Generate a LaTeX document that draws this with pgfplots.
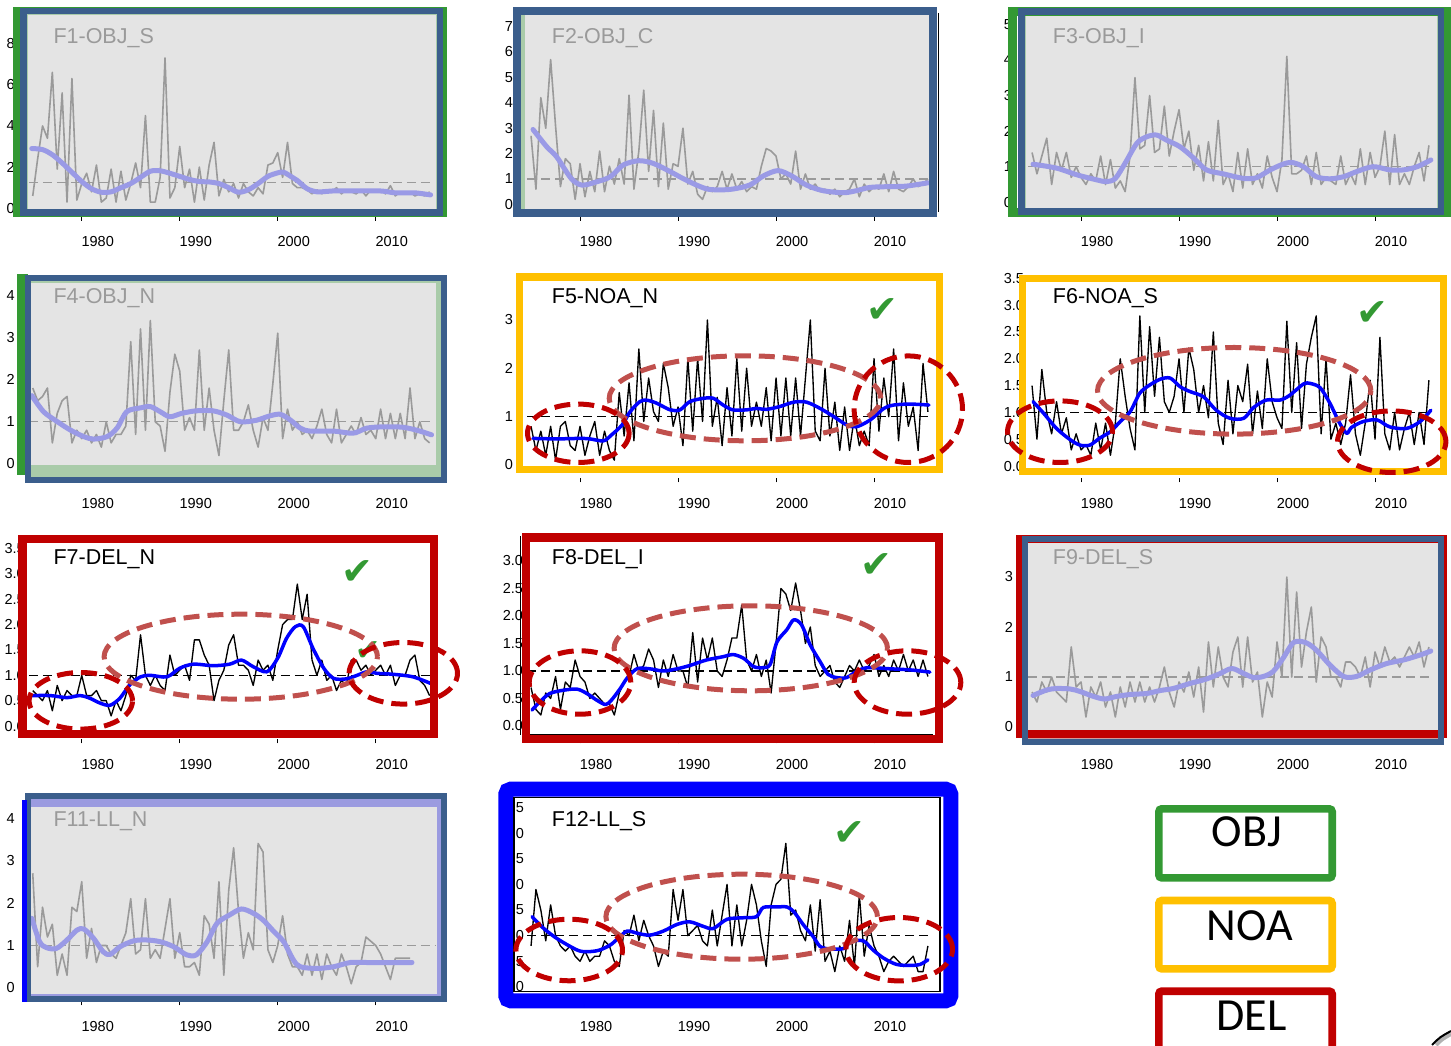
\documentclass[border=0pt]{standalone}
\usepackage{fontspec}
\setmainfont{Liberation Sans}
\newfontfamily\legfont{Carlito}
\newfontfamily\checkfont{DejaVu Sans}
\usepackage{pgfplots}
\pgfplotsset{compat=1.18}
\usepackage{pgfplotstable}

\definecolor{objgreen}{HTML}{339933}
\definecolor{noaorange}{HTML}{FFC000}
\definecolor{delred}{HTML}{C00000}
\definecolor{steelb}{HTML}{3B5E8C}
\definecolor{lgreen}{HTML}{A9CBA9}
\definecolor{panelgray}{HTML}{E4E4E4}
\definecolor{rawgray}{HTML}{9A9A9A}
\definecolor{lav}{HTML}{9A9AE6}
\definecolor{lavframe}{HTML}{9B9BE0}
\definecolor{pinkband}{HTML}{D39C9C}
\definecolor{midell}{HTML}{C0504D}
\definecolor{brightblue}{HTML}{0000FF}

\newcommand{\tickfont}{\fontsize{14.5}{14.5}\selectfont}
\newcommand{\titlefont}{\fontsize{21.5}{21.5}\selectfont}

% raw series, half-year steps from 1975.0
\pgfplotstableread[row sep=\\]{y\\0.6\\2.4\\4.0\\3.4\\6.6\\1.9\\5.6\\0.3\\6.3\\0.4\\1.2\\1.7\\0.8\\2.1\\0.3\\0.5\\1.9\\0.3\\1.8\\0.4\\1.2\\2.2\\1.0\\4.5\\0.3\\0.3\\1.5\\7.3\\0.5\\1.0\\3.0\\1.0\\1.9\\0.3\\2.0\\0.4\\2.1\\3.2\\0.6\\1.4\\0.8\\1.2\\0.5\\1.2\\0.8\\0.6\\1.0\\0.7\\2.1\\2.2\\2.7\\1.5\\3.2\\1.2\\1.0\\1.0\\0.9\\0.7\\0.9\\0.7\\0.9\\0.8\\1.0\\0.7\\0.9\\0.8\\0.7\\0.9\\0.6\\0.9\\0.8\\0.9\\0.7\\1.1\\0.6\\0.8\\0.7\\0.8\\0.6\\0.7\\0.6\\0.8\\}\FoneR
\pgfplotstableread[row sep=\\]{y\\2.7\\0.6\\4.2\\3.0\\5.7\\3.1\\0.7\\1.8\\1.6\\0.2\\1.6\\0.3\\1.3\\0.5\\2.1\\0.5\\1.5\\0.8\\1.8\\0.8\\4.3\\0.6\\2.1\\4.5\\1.3\\3.7\\0.7\\3.2\\0.6\\1.6\\1.5\\3.0\\0.8\\1.3\\0.4\\0.2\\0.7\\0.5\\0.7\\1.3\\0.6\\1.2\\0.6\\0.9\\0.5\\0.7\\0.6\\1.5\\2.2\\2.1\\1.9\\1.0\\1.2\\0.8\\2.1\\0.6\\1.2\\0.6\\0.8\\0.5\\0.6\\0.4\\0.6\\0.3\\0.5\\0.6\\1.0\\0.3\\0.8\\0.5\\0.7\\0.6\\1.2\\0.5\\1.3\\0.6\\0.5\\0.7\\1.0\\0.7\\0.8\\1.0\\}\FtwoR
\pgfplotstableread[row sep=\\]{y\\1.4\\0.8\\1.3\\1.8\\0.5\\1.4\\0.9\\1.4\\0.7\\1.0\\0.7\\0.5\\0.8\\0.6\\1.3\\0.5\\1.2\\0.4\\0.6\\0.3\\1.3\\3.5\\1.5\\1.6\\3.0\\1.4\\1.5\\2.7\\1.3\\2.0\\2.6\\1.5\\2.0\\0.9\\1.6\\0.6\\1.7\\0.6\\2.3\\0.5\\0.8\\0.3\\1.4\\0.4\\1.5\\0.5\\0.8\\0.4\\1.3\\0.7\\0.3\\1.2\\4.1\\0.8\\0.8\\0.9\\1.3\\0.5\\1.4\\0.5\\0.7\\0.6\\0.5\\1.3\\0.5\\0.8\\0.5\\1.5\\0.5\\1.4\\0.7\\1.0\\2.0\\0.5\\1.9\\0.5\\0.8\\0.5\\1.0\\1.4\\0.6\\1.6\\}\FthreeR
\pgfplotstableread[row sep=\\]{y\\1.8\\1.5\\1.6\\1.8\\0.5\\1.2\\1.5\\1.6\\0.5\\0.8\\0.6\\0.8\\0.5\\0.7\\0.4\\1.0\\0.5\\0.7\\0.7\\0.9\\2.9\\0.7\\3.2\\0.8\\3.4\\1.0\\0.9\\0.3\\1.7\\2.6\\2.2\\0.8\\1.1\\0.8\\2.7\\0.8\\1.8\\0.8\\0.2\\1.5\\2.7\\0.8\\0.8\\1.0\\1.4\\0.8\\0.4\\1.1\\0.8\\1.9\\3.1\\0.6\\1.3\\0.8\\1.0\\0.7\\0.8\\0.6\\0.9\\1.3\\0.7\\0.5\\1.3\\0.5\\0.7\\0.9\\0.7\\1.1\\0.7\\0.8\\0.6\\1.3\\0.6\\1.2\\0.6\\1.2\\0.6\\1.8\\0.6\\1.0\\0.6\\0.5\\}\FfourR
\pgfplotstableread[row sep=\\]{y\\0.8\\0.3\\0.7\\0.2\\0.8\\0.1\\0.8\\0.9\\0.4\\0.3\\0.8\\0.2\\0.6\\0.9\\0.2\\0.7\\0.3\\0.1\\1.5\\0.6\\1.7\\0.5\\2.4\\0.9\\1.8\\1.1\\0.9\\2.1\\1.6\\0.8\\1.2\\0.4\\2.2\\0.7\\2.2\\0.9\\3.0\\0.8\\1.4\\0.4\\1.6\\0.6\\2.2\\0.7\\2.0\\0.8\\1.3\\0.8\\1.6\\0.5\\1.8\\0.6\\1.8\\0.6\\1.8\\0.6\\1.8\\3.0\\0.7\\0.5\\2.0\\0.6\\1.3\\0.3\\1.2\\0.3\\1.0\\0.4\\0.7\\0.4\\2.2\\0.7\\1.8\\1.0\\2.4\\0.5\\1.7\\0.8\\1.2\\0.3\\2.1\\1.1\\}\FfiveR
\pgfplotstableread[row sep=\\]{y\\1.5\\0.5\\1.8\\1.0\\0.6\\1.2\\0.6\\0.9\\0.3\\0.6\\0.3\\0.4\\0.2\\0.8\\0.3\\0.8\\0.2\\0.8\\2.0\\1.3\\0.7\\0.3\\2.8\\1.0\\2.6\\1.3\\2.4\\1.2\\1.0\\1.3\\2.0\\1.0\\2.2\\1.8\\1.0\\1.5\\0.9\\2.5\\0.8\\0.4\\1.6\\0.6\\1.5\\1.2\\1.9\\0.6\\1.4\\0.7\\2.0\\1.2\\0.9\\0.7\\2.7\\1.0\\2.3\\0.7\\1.9\\2.4\\2.8\\0.6\\2.0\\0.5\\0.8\\0.4\\0.8\\1.7\\0.6\\0.2\\0.8\\1.6\\0.5\\2.4\\0.6\\0.3\\1.0\\0.3\\0.7\\1.0\\0.4\\1.0\\0.4\\1.6\\}\FsixR
\pgfplotstableread[row sep=\\]{y\\0.7\\0.6\\0.5\\0.7\\0.3\\0.8\\0.5\\0.7\\0.6\\0.6\\1.0\\0.6\\0.6\\0.7\\0.5\\0.5\\0.2\\0.5\\0.3\\0.6\\1.0\\0.9\\1.8\\1.0\\0.8\\1.0\\0.8\\0.7\\1.4\\1.0\\1.1\\1.2\\0.9\\1.7\\1.7\\1.4\\1.2\\0.5\\0.9\\1.1\\1.6\\1.8\\1.2\\1.2\\1.1\\0.8\\1.3\\1.1\\1.2\\0.9\\1.5\\2.0\\2.1\\2.1\\2.8\\2.1\\2.6\\1.3\\1.0\\1.3\\0.9\\1.0\\0.7\\0.9\\0.8\\1.3\\1.3\\1.1\\1.2\\1.0\\1.1\\1.2\\1.0\\1.2\\0.8\\1.0\\1.0\\1.3\\1.4\\0.9\\0.8\\0.6\\}\FsevenR
\pgfplotstableread[row sep=\\]{y\\0.7\\0.3\\0.2\\0.6\\0.5\\0.9\\0.3\\0.8\\0.7\\1.2\\0.9\\0.8\\0.5\\0.6\\0.5\\0.4\\0.4\\0.2\\0.6\\0.8\\0.9\\1.3\\1.0\\1.1\\1.4\\1.2\\0.7\\1.2\\0.9\\1.3\\1.0\\1.0\\0.7\\1.7\\0.8\\1.6\\1.2\\1.6\\1.0\\0.9\\1.2\\1.6\\1.6\\2.2\\1.2\\1.0\\1.3\\0.9\\1.2\\0.6\\1.5\\2.5\\2.4\\2.1\\2.6\\2.1\\1.5\\1.8\\1.1\\0.9\\1.0\\1.1\\0.8\\0.7\\0.9\\1.1\\1.0\\1.2\\1.0\\1.1\\1.3\\0.9\\1.1\\0.9\\1.2\\1.0\\1.3\\1.0\\1.2\\0.9\\1.2\\0.9\\}\FeightR
\pgfplotstableread[row sep=\\]{y\\0.7\\0.5\\0.9\\0.7\\1.0\\0.7\\0.6\\0.5\\1.6\\0.8\\0.9\\0.2\\0.8\\0.6\\0.9\\0.4\\0.7\\0.2\\0.8\\0.4\\0.9\\0.5\\0.9\\0.5\\0.8\\0.5\\0.8\\1.2\\0.7\\0.4\\0.9\\0.7\\1.1\\0.6\\1.2\\0.3\\1.7\\0.8\\1.6\\1.0\\0.8\\1.5\\1.8\\0.8\\1.8\\0.9\\1.1\\0.2\\0.9\\0.6\\1.7\\1.0\\3.0\\1.0\\2.7\\1.2\\1.9\\2.4\\0.9\\1.8\\1.6\\1.0\\1.0\\0.8\\1.3\\1.3\\1.2\\1.0\\1.4\\0.8\\1.5\\1.2\\1.6\\1.3\\1.4\\1.2\\1.4\\1.6\\1.4\\1.7\\1.2\\1.6\\}\FnineR
\pgfplotstableread[row sep=\\]{y\\2.7\\0.5\\1.9\\1.2\\1.5\\0.3\\0.8\\0.3\\1.9\\1.8\\2.5\\0.7\\1.4\\0.6\\1.0\\1.0\\0.8\\0.7\\1.0\\1.3\\2.1\\0.8\\0.9\\2.1\\0.7\\0.9\\0.7\\1.4\\2.1\\0.7\\1.3\\0.5\\0.5\\0.6\\0.3\\1.7\\1.5\\0.7\\2.5\\0.3\\2.3\\3.3\\1.8\\0.7\\1.3\\0.9\\3.4\\3.2\\0.9\\0.6\\1.0\\1.7\\0.8\\0.5\\0.5\\0.3\\0.8\\0.3\\0.8\\0.2\\0.8\\0.5\\0.3\\0.8\\0.5\\0.1\\0.5\\0.6\\1.2\\1.1\\1.0\\0.8\\0.5\\0.2\\0.7\\0.7\\0.7\\0.7\\}\FelevenR
\pgfplotstableread[row sep=\\]{y\\0.8\\1.9\\1.5\\0.9\\1.6\\1.0\\0.8\\0.7\\0.8\\0.6\\0.5\\0.7\\0.5\\0.6\\0.6\\0.9\\0.8\\0.5\\0.4\\1.1\\1.0\\1.4\\0.9\\1.3\\1.0\\0.8\\0.4\\0.7\\0.6\\1.9\\1.3\\1.9\\1.0\\1.1\\1.2\\0.9\\0.8\\1.5\\0.8\\1.4\\2.0\\0.8\\1.6\\0.8\\1.3\\2.0\\1.6\\0.9\\0.4\\1.6\\2.0\\2.1\\2.8\\1.4\\1.5\\1.1\\0.9\\1.6\\0.7\\1.7\\0.5\\0.7\\0.3\\0.8\\0.5\\1.3\\0.4\\1.8\\0.6\\1.2\\0.8\\0.6\\0.3\\0.5\\0.6\\0.5\\0.4\\0.5\\0.6\\0.3\\0.3\\0.8\\}\FtwelveR

\pgfplotsset{
  panel/.style={scale only axis, width=415.5pt, height=207pt,
    xmin=1974.2, xmax=2016.6, anchor=south west,
    axis line style={draw=none},
    xtick={1980,1990,2000,2010}, xticklabels={1980,1990,2000,2010},
    tick align=outside, xtick pos=bottom, ytick pos=left,
    major tick length=4pt,
    x tick style={black, line width=0.9pt},
    y tick style={draw=none},
    xticklabel style={font=\tickfont, inner sep=0pt, anchor=north, yshift=-15.4pt, xshift=16pt},
    yticklabel style={font=\tickfont, inner sep=0pt, anchor=east},
    clip=true},
  rawg/.style={color=rawgray, line width=1.6pt, line join=round},
  smg/.style={color=lav, line width=5pt, line join=round, line cap=round, smooth, tension=0.5},
  meang/.style={color=rawgray, line width=1.4pt, dash pattern=on 9pt off 5pt},
  rawk/.style={black, line width=1.35pt, line join=round},
  smk/.style={color=brightblue, line width=3.5pt, line join=round, line cap=round, smooth, tension=0.5},
  meank/.style={black, line width=1.3pt, dash pattern=on 9pt off 5pt},
}
\newcommand{\rawplot}[2]{\addplot[#1] table[x expr={1975+0.5*\coordindex}, y index=0] {#2};}

% helpers in image pixel coordinates (y measured from top)
\newcommand{\boxR}[6]{\draw[#5, line width=#6pt] ({#1+#6/2},{1045-#2-#6/2}) rectangle ({#3-#6/2},{1045-#4+#6/2});}
\newcommand{\fillR}[5]{\fill[#5] (#1,{1045-#2}) rectangle (#3,{1045-#4});}
\newcommand{\ellR}[5]{\draw[#5, line width=5pt, dash pattern=on 16pt off 8pt] (#1,{1045-#2}) ellipse [x radius={#3-2.5}, y radius={#4-2.5}];}
\newcommand{\titleR}[4]{\node[anchor=base west, inner sep=0pt, font=\titlefont, text=#4] at (#1,{1045-#2}) {#3};}
\newcommand{\checkR}[3]{\node[inner sep=0pt, text=objgreen, font=\checkfont\fontsize{#3}{#3}\selectfont] at (#1,{1045-#2}) {✔};}

\begin{document}
\begin{tikzpicture}[x=1pt,y=1pt]
\useasboundingbox (0,0) rectangle (1451,1045);

% ---------- backgrounds ----------
\fillR{26}{14}{437}{211}{panelgray}
\boxR{26}{13.5}{437}{211}{lgreen}{1.5}
\fillR{519}{13}{931}{211}{lgreen}
\fillR{525}{15.5}{930}{209.5}{panelgray}
\fillR{1024}{14}{1438}{210.5}{panelgray}
\boxR{1024}{13.5}{1438}{211}{lgreen}{1.5}
\fillR{26}{278}{441}{478}{lgreen}
\fillR{31}{283}{435.5}{465}{panelgray}
\fillR{1027}{541}{1439}{730}{panelgray}
\fillR{1027}{730}{1439}{740}{pinkband}
\fillR{27}{798}{442}{996}{lavframe}
\fillR{31}{807}{436.5}{994}{panelgray}

% ---------- F1 ----------
\begin{axis}[panel, at={(24.9pt,828pt)}, ymin=-0.422, ymax=9.626,
  ytick={0,2,4,6,8}, yticklabels={0,2,4,6,8}, yticklabel style={xshift=-6pt}]
\rawplot{rawg}{\FoneR}
\addplot[meang] coordinates {(1974.6,1.25) (2016.0,1.25)};
\addplot[smg] coordinates {(1974.9,2.9) (1976,2.85) (1977,2.6) (1978,2.2) (1979,1.75) (1980,1.3) (1981,0.95) (1982,0.78) (1983,0.8) (1984,1.0) (1985,1.2) (1986,1.5) (1987,1.8) (1988,1.82) (1989,1.7) (1990,1.55) (1991,1.4) (1992,1.3) (1993,1.28) (1994,1.2) (1995,1.0) (1996,0.78) (1997,0.9) (1998,1.2) (1999,1.55) (2000,1.72) (2000.6,1.75) (2001.5,1.5) (2002,1.35) (2003,0.95) (2004,0.8) (2005,0.82) (2006,0.85) (2008,0.85) (2010,0.85) (2011,0.82) (2012,0.75) (2014,0.75) (2015.6,0.65)};
\end{axis}

% ---------- F2 ----------
\begin{axis}[panel, at={(523.2pt,828pt)}, ymin=-0.496, ymax=7.654,
  ytick={0,1,2,3,4,5,6,7}, yticklabels={0,1,2,3,4,5,6,7}, yticklabel style={xshift=-6pt}]
\rawplot{rawg}{\FtwoR}
\addplot[meang] coordinates {(1974.6,1.0) (2016.0,1.0)};
\addplot[smg] coordinates {(1975.2,2.95) (1976.6,2.27) (1977.6,1.88) (1979.1,1.02) (1980.2,0.76) (1981.7,0.89) (1983.1,1.09) (1984.4,1.55) (1986,1.72) (1987.5,1.61) (1989.2,1.29) (1990.5,1.02) (1991.9,0.76) (1993.2,0.59) (1995.3,0.59) (1997.3,0.76) (1998.7,1.12) (2000.2,1.33) (2001.6,1.12) (2003.1,0.76) (2004.8,0.54) (2006.9,0.46) (2008.2,0.54) (2009.6,0.67) (2011.6,0.70) (2013.3,0.72) (2015.5,0.85)};
\end{axis}

% ---------- F3 ----------
\begin{axis}[panel, at={(1024.2pt,828pt)}, ymin=-0.413, ymax=5.402,
  ytick={0,1,2,3,4,5}, yticklabels={0,1,2,3,4,5}, yticklabel style={xshift=-8pt}]
\rawplot{rawg}{\FthreeR}
\addplot[meang] coordinates {(1974.6,1.0) (2016.0,1.0)};
\addplot[smg] coordinates {(1975.1,1.07) (1977.5,0.96) (1979.6,0.77) (1981.6,0.63) (1982.6,0.58) (1983.5,0.67) (1984.5,1.1) (1985.7,1.66) (1986.7,1.84) (1987.7,1.89) (1988.7,1.75) (1990.1,1.56) (1991.5,1.24) (1992.8,0.91) (1994.5,0.8) (1996.6,0.67) (1997.9,0.69) (1999.3,0.91) (2000.6,1.07) (2001.5,1.12) (2002.7,1.0) (2004,0.72) (2005.4,0.66) (2006.8,0.72) (2008.1,0.86) (2009.8,1.0) (2011.5,0.91) (2012.9,0.91) (2014.3,1.0) (2015.7,1.19)};
\end{axis}

% ---------- F4 ----------
\begin{axis}[panel, at={(24.9pt,566.7pt)}, ymin=-0.339, ymax=4.566,
  ytick={0,1,2,3,4}, yticklabels={0,1,2,3,4}, yticklabel style={xshift=-6pt}]
\rawplot{rawg}{\FfourR}
\addplot[meang] coordinates {(1974.6,1.0) (2016.0,1.0)};
\addplot[smg] coordinates {(1974.9,1.62) (1976.1,1.24) (1977.4,1.02) (1978.8,0.81) (1980.2,0.65) (1981.2,0.59) (1982.6,0.65) (1983.6,0.85) (1984.6,1.24) (1986,1.33) (1987,1.36) (1988,1.24) (1989,1.12) (1990.2,1.2) (1991.7,1.26) (1993.4,1.26) (1994.8,1.16) (1996.2,1.0) (1997.9,1.04) (1998.9,1.12) (2000.2,1.18) (2001.3,1.04) (2002.3,0.85) (2003.3,0.78) (2005.7,0.78) (2007.7,0.73) (2009.1,0.85) (2010.8,0.88) (2012.8,0.87) (2014.5,0.78) (2015.7,0.69)};
\end{axis}

% ---------- F5 ----------
\begin{axis}[panel, at={(523.2pt,566.7pt)}, ymin=-0.275, ymax=4.006,
  ytick={0,1,2,3}, yticklabels={0,1,2,3}, yticklabel style={xshift=-6pt}]
\rawplot{rawk}{\FfiveR}
\addplot[meank] coordinates {(1974.6,1.0) (2016.0,1.0)};
\addplot[smk] coordinates {(1975.2,0.55) (1977.6,0.54) (1980,0.55) (1981,0.54) (1982.4,0.5) (1983.2,0.62) (1984.3,0.83) (1985.1,1.1) (1986.1,1.31) (1986.8,1.34) (1987.8,1.28) (1989.2,1.14) (1990.2,1.14) (1991.2,1.31) (1992.6,1.38) (1993.6,1.38) (1994.6,1.24) (1995.6,1.14) (1997,1.14) (1998,1.17) (1999,1.15) (2000.4,1.21) (2001.8,1.3) (2003.1,1.3) (2004.5,1.17) (2005.9,1.0) (2007.2,0.83) (2008.2,0.79) (2009.6,0.93) (2011,1.17) (2012,1.24) (2013.7,1.26) (2015.6,1.24)};
\end{axis}

% ---------- F6 ----------
\begin{axis}[panel, at={(1024.2pt,566.7pt)}, ymin=-0.229, ymax=3.632,
  ytick={0,0.5,1,1.5,2,2.5,3,3.5}, yticklabels={0.0,0.5,1.0,1.5,2.0,2.5,3.0,3.5}, yticklabel style={xshift=4pt}]
\rawplot{rawk}{\FsixR}
\addplot[meank] coordinates {(1974.6,1.0) (2016.0,1.0)};
\addplot[smk] coordinates {(1975.1,1.2) (1976.2,0.98) (1977.5,0.7) (1978.9,0.49) (1979.9,0.39) (1980.9,0.39) (1981.9,0.52) (1983,0.64) (1984,0.83) (1985,1.01) (1986,1.36) (1987,1.51) (1988.1,1.62) (1989.1,1.64) (1990.1,1.48) (1991.1,1.39) (1992.5,1.29) (1993.8,1.04) (1995.2,0.89) (1996.6,0.89) (1997.6,1.09) (1998.9,1.23) (2000.3,1.23) (2001.3,1.32) (2002.7,1.53) (2003.4,1.54) (2004.4,1.46) (2005.4,1.17) (2006.3,0.83) (2007.1,0.61) (2007.6,0.72) (2008.8,0.83) (2010.2,0.86) (2011.5,0.73) (2013.2,0.7) (2014.6,0.83) (2015.7,1.04)};
\end{axis}

% ---------- F7 ----------
\begin{axis}[panel, at={(24.9pt,305.7pt)}, ymin=-0.262, ymax=3.821,
  ytick={0,0.5,1,1.5,2,2.5,3,3.5}, yticklabels={0.0,0.5,1.0,1.5,2.0,2.5,3.0,3.5}, yticklabel style={xshift=4pt}]
\rawplot{rawk}{\FsevenR}
\addplot[meank] coordinates {(1974.6,1.0) (2016.0,1.0)};
\addplot[smk] coordinates {(1974.9,0.6) (1976.8,0.6) (1978.5,0.56) (1979.8,0.6) (1980.8,0.55) (1981.9,0.45) (1982.9,0.41) (1983.9,0.55) (1984.9,0.81) (1986,0.97) (1987,1.0) (1988.7,0.97) (1990,1.14) (1991.4,1.22) (1993.4,1.19) (1995.1,1.22) (1996.3,1.3) (1997.5,1.17) (1998.9,1.07) (2000,1.34) (2000.9,1.73) (2001.8,1.96) (2002.6,1.96) (2003.6,1.53) (2004.7,1.14) (2005.7,0.94) (2007,0.93) (2008.1,1.0) (2009.1,1.07) (2010.1,1.04) (2011.8,1.02) (2013.8,0.97) (2015.6,0.84)};
\end{axis}

% ---------- F8 ----------
\begin{axis}[panel, at={(523.2pt,305.7pt)}, ymin=-0.242, ymax=3.522,
  ytick={0,0.5,1,1.5,2,2.5,3}, yticklabels={0.0,0.5,1.0,1.5,2.0,2.5,3.0}, yticklabel style={xshift=4pt}]
\rawplot{rawk}{\FeightR}
\addplot[meank] coordinates {(1974.6,1.0) (2016.0,1.0)};
\addplot[smk] coordinates {(1975.1,0.29) (1975.9,0.44) (1976.9,0.59) (1978.3,0.65) (1979.7,0.67) (1980.7,0.59) (1981.7,0.47) (1982.6,0.39) (1983.2,0.47) (1984.1,0.68) (1984.8,0.87) (1985.8,1.04) (1987.1,1.04) (1988.5,1.0) (1989.9,1.04) (1991.2,1.1) (1992.9,1.2) (1994.6,1.26) (1995.6,1.3) (1996.7,1.23) (1997.7,1.08) (1998.7,1.06) (1999.4,1.12) (2000.1,1.53) (2001.1,1.75) (2001.8,1.93) (2002.6,1.84) (2003.5,1.47) (2004.5,1.17) (2005.3,0.94) (2006.2,0.88) (2007.2,0.88) (2008.2,0.99) (2009.3,1.06) (2011.6,1.04) (2013.7,1.02) (2015.7,0.98)};
\end{axis}

% ---------- F9 ----------
\begin{axis}[panel, at={(1024.2pt,305.7pt)}, ymin=-0.246, ymax=3.894,
  ytick={0,1,2,3}, yticklabels={0,1,2,3}, yticklabel style={xshift=-7pt}]
\rawplot{rawg}{\FnineR}
\addplot[meang] coordinates {(1974.6,1.0) (2016.0,1.0)};
\addplot[smg] coordinates {(1975.1,0.63) (1976.5,0.74) (1977.5,0.77) (1978.9,0.76) (1979.9,0.71) (1981.3,0.61) (1982.4,0.56) (1983.6,0.61) (1985,0.65) (1986.7,0.67) (1988.1,0.73) (1989.4,0.77) (1991.1,0.87) (1992.8,0.96) (1994.2,1.07) (1995.4,1.17) (1996.6,1.07) (1997.6,0.99) (1998.6,1.01) (1999.6,1.11) (2000.6,1.37) (2001.7,1.69) (2002.9,1.69) (2004,1.54) (2005.4,1.24) (2006.8,1.01) (2008.1,1.01) (2009.5,1.14) (2011.2,1.27) (2012.9,1.34) (2014.6,1.44) (2015.7,1.52)};
\end{axis}

% ---------- F11 ----------
\begin{axis}[panel, at={(24.9pt,43.7pt)}, ymin=-0.313, ymax=4.558,
  ytick={0,1,2,3,4}, yticklabels={0,1,2,3,4}, yticklabel style={xshift=-6pt}]
\rawplot{rawg}{\FelevenR}
\addplot[meang] coordinates {(1974.6,1.0) (2016.2,1.0)};
\addplot[smg] coordinates {(1974.9,1.64) (1975.7,1.09) (1976.4,0.95) (1977.4,0.93) (1978.5,1.13) (1979.5,1.36) (1980.2,1.39) (1981.2,1.17) (1982.2,0.85) (1982.9,0.79) (1983.9,0.97) (1985.3,1.11) (1986.6,1.13) (1988,1.09) (1989.4,0.97) (1990.7,0.78) (1991.7,0.78) (1992.8,1.09) (1993.8,1.52) (1995.1,1.72) (1996.3,1.86) (1997.5,1.76) (1998.5,1.6) (1999.6,1.33) (2000.6,1.09) (2001.6,0.66) (2002.3,0.5) (2004,0.46) (2005.7,0.5) (2007.4,0.6) (2009.1,0.6) (2013.7,0.6)};
\end{axis}

% ---------- F12 ----------
\begin{axis}[panel, at={(523.2pt,43.7pt)}, ymin=-0.279, ymax=3.756,
  ytick={0,0.5,1,1.5,2,2.5,3,3.5}, yticklabels={0.0,0.5,1.0,1.5,2.0,2.5,3.0,3.5}, yticklabel style={xshift=5pt}]
\rawplot{rawk}{\FtwelveR}
\addplot[meank] coordinates {(1974.6,1.0) (2016.0,1.0)};
\addplot[smk] coordinates {(1975.1,1.37) (1976.3,1.14) (1977.6,0.95) (1979,0.79) (1980,0.7) (1981,0.69) (1982,0.72) (1983.1,0.82) (1983.9,0.95) (1984.8,1.09) (1985.8,1.05) (1987.1,1.01) (1988.5,1.09) (1989.9,1.22) (1991.2,1.27) (1992.6,1.18) (1993.6,1.14) (1995,1.32) (1996.7,1.35) (1998,1.37) (1998.7,1.55) (2000.1,1.56) (2001.1,1.56) (2001.8,1.47) (2002.8,1.21) (2003.8,0.98) (2004.5,0.79) (2005.5,0.74) (2006.9,0.75) (2007.6,0.88) (2008.9,0.9) (2009.9,0.72) (2011,0.56) (2012.3,0.44) (2013.7,0.42) (2014.7,0.44) (2015.5,0.53)};
\end{axis}

% ---------- borders ----------
\boxR{12.7}{7.3}{447}{216.7}{objgreen}{7}
\boxR{20}{8}{443.3}{216}{steelb}{6.5}
\boxR{513.3}{7.3}{936.7}{216.7}{steelb}{7.5}
\draw[black, line width=1pt] (938.8,{1045-13}) -- (938.8,{1045-212});
\boxR{1008.3}{7.3}{1451.5}{216.7}{objgreen}{9}
\boxR{1018.3}{8.3}{1444}{215}{steelb}{6.5}
\fillR{16.7}{274.3}{28}{475}{objgreen}
\boxR{25}{275}{446.7}{483.3}{steelb}{6}
\boxR{516}{273.3}{943.3}{473.3}{noaorange}{7.3}
\boxR{1019.3}{275}{1446.7}{475}{noaorange}{7}
\boxR{18.3}{535}{438.3}{738.3}{delred}{8.3}
\boxR{521.7}{533.3}{943.3}{743.3}{delred}{8.3}
\draw[black, line width=1pt] (520.8,{1045-536}) -- (520.8,{1045-735});
\draw[black, line width=1.2pt] (530,{1045-734.3}) -- (933,{1045-734.3});
\boxR{1016}{535}{1446.7}{738.3}{delred}{8}
\boxR{1021.7}{535.7}{1444}{745}{steelb}{6}
\boxR{25}{793.3}{446.7}{1001.7}{steelb}{6}
\fillR{21.7}{800}{26.7}{1002}{brightblue}
\boxR{498.3}{781.7}{958.3}{1008.3}{brightblue, rounded corners=5pt}{15}
\draw[black, line width=1.3pt] (514,{1045-797.5}) rectangle (940,{1045-991.5});

% ---------- check marks ----------
\checkR{368}{651}{30}
\checkR{882.5}{311}{38}
\checkR{1372.5}{314}{38}
\checkR{357.5}{572.5}{38}
\checkR{876}{566}{38}
\checkR{849}{834}{38}

% ---------- ellipses ----------
\ellR{745}{398.3}{138.3}{45}{midell}
\ellR{578.3}{433.3}{53.3}{31.7}{delred}
\ellR{908.3}{409.2}{56.7}{55.8}{delred}
\ellR{1234.2}{390.8}{139.2}{45.8}{midell}
\ellR{1060}{431.7}{55}{33.3}{delred}
\ellR{1391.7}{441.7}{56.7}{33.3}{delred}
\ellR{240.8}{656.7}{139.2}{45}{midell}
\ellR{80.8}{700.8}{54.2}{30.8}{delred}
\ellR{403.3}{673.3}{56.7}{33.3}{delred}
\ellR{750.8}{648.3}{139.2}{45}{midell}
\ellR{580}{682.5}{53.3}{34.2}{delred}
\ellR{907.5}{682.5}{55.8}{34.2}{delred}
\ellR{741.7}{916.7}{138.3}{45}{midell}
\ellR{569.2}{950}{55.8}{33.3}{delred}
\ellR{899.2}{949.2}{55.8}{34.2}{delred}

% ---------- titles ----------
\titleR{53.3}{44}{F1-OBJ\_S}{rawgray}
\titleR{551.7}{44}{F2-OBJ\_C}{rawgray}
\titleR{1052.7}{44}{F3-OBJ\_I}{rawgray}
\titleR{53.3}{303.3}{F4-OBJ\_N}{rawgray}
\titleR{551.7}{303.3}{F5-NOA\_N}{black}
\titleR{1052.7}{303.3}{F6-NOA\_S}{black}
\titleR{53.3}{564.3}{F7-DEL\_N}{black}
\titleR{551.7}{564.3}{F8-DEL\_I}{black}
\titleR{1052.7}{565}{F9-DEL\_S}{rawgray}
\titleR{53.3}{826.7}{F11-LL\_N}{rawgray}
\titleR{551.7}{826.7}{F12-LL\_S}{black}

% ---------- legend boxes ----------
\boxR{1155}{805}{1336}{881.7}{objgreen, rounded corners=3pt}{7.7}
\boxR{1155}{896.7}{1336}{972.7}{noaorange, rounded corners=3pt}{7.7}
\boxR{1155}{987.3}{1336}{1055}{delred, rounded corners=3pt}{7.7}
\node[anchor=base, inner sep=0pt, font=\legfont\fontsize{46}{46}\selectfont] at (1246.7,{1045-846.7}) {OBJ};
\node[anchor=base, inner sep=0pt, font=\legfont\fontsize{46}{46}\selectfont] at (1250,{1045-940}) {NOA};
\node[anchor=base, inner sep=0pt, font=\legfont\fontsize{46}{46}\selectfont] at (1251.7,{1045-1030}) {DEL};

% page curl
\draw[gray!60, line width=4pt] (1436,0) .. controls (1442,6) .. (1451,11);
\draw[black, line width=2pt] (1432,0) .. controls (1440,8) .. (1451,14);
\end{tikzpicture}
\end{document}
